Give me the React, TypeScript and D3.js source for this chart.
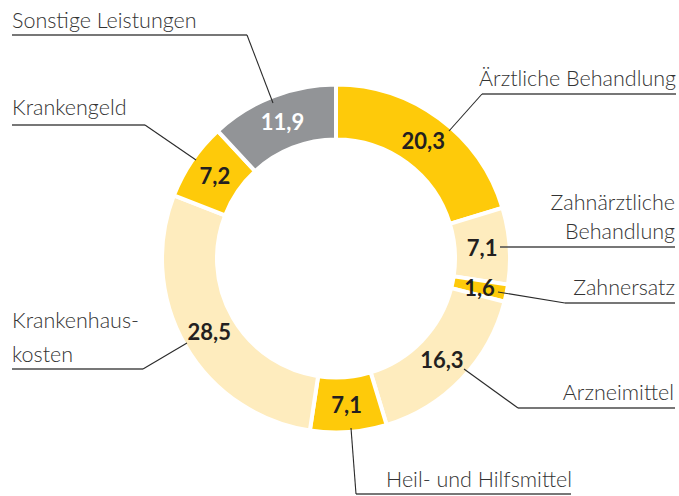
import React from "react";
import * as d3 from "d3";

const categories = [
  "Ärztliche Behandlung",
  "Zahnärztliche Behandlung",
  "Zahnersatz",
  "Arzneimittel",
  "Heil- und Hilfsmittel",
  "Krankenhauskosten",
  "Krankengeld",
  "Sonstige Leistungen",
];
const values = [20.3, 7.1, 1.6, 16.3, 7.1, 28.5, 7.2, 11.9];
const valueLabels = ["20,3", "7,1", "1,6", "16,3", "7,1", "28,5", "7,2", "11,9"];
const colorKeys = ["dark", "light", "dark", "light", "dark", "light", "dark", "gray"];

const COLORS: Record<string, string> = {
  dark: "#FECA0A",
  light: "#FEECBE",
  gray: "#929497",
};

// annotation layout (text lines, underline and leader)
const annotations = [
  { lines: ["Ärztliche Behandlung"], anchor: "end", x: 676, y: [86], ul: [482, 676, 94], from: 482, leader: [449, 131] },
  { lines: ["Zahnärztliche", "Behandlung"], anchor: "end", x: 675, y: [210, 239], ul: [500, 675, 247], from: 500, leader: null },
  { lines: ["Zahnersatz"], anchor: "end", x: 675, y: [295], ul: [565, 675, 303], from: 565, leader: [498, 292] },
  { lines: ["Arzneimittel"], anchor: "end", x: 674, y: [400], ul: [518, 675, 408], from: 518, leader: [464, 369] },
  { lines: ["Heil- und Hilfsmittel"], anchor: "start", x: 386, y: [487], ul: [356, 571, 494], from: 356, leader: [351, 428] },
  { lines: ["Krankenhaus-", "kosten"], anchor: "start", x: 12, y: [328, 362], ul: [12, 143, 369], from: 143, leader: [187, 343] },
  { lines: ["Krankengeld"], anchor: "start", x: 12, y: [115], ul: [12, 145, 125], from: 145, leader: [196, 160] },
  { lines: ["Sonstige Leistungen"], anchor: "start", x: 12, y: [28], ul: [12, 247, 35], from: 247, leader: [273, 103] },
];

const W = 679;
const H = 496;
const CX = 336;
const CY = 258.5;
const R_OUT = 174;
const R_IN = 119;

export default function App() {
  const pie = d3
    .pie<number>()
    .sort(null)
    .value((d) => d)
    .startAngle(0)
    .endAngle(2 * Math.PI);
  const arcs = pie(values);
  const arc = d3.arc<d3.PieArcDatum<number>>().innerRadius(R_IN).outerRadius(R_OUT);
  const font = "Lato, 'Open Sans', sans-serif";

  return (
    <svg
      width={W}
      height={H}
      style={{ position: "absolute", left: 0, top: 0, background: "#fff" }}
    >
      <g transform={`translate(${CX},${CY})`}>
        {arcs.map((a, i) => (
          <path
            key={categories[i]}
            d={arc(a) || ""}
            fill={COLORS[colorKeys[i]]}
            stroke="#fff"
            strokeWidth={4}
          />
        ))}
      </g>
      {annotations.map((an, i) => {
        const [x1, x2, uy] = an.ul;
        return (
          <g key={"an" + i}>
            <line x1={x1} x2={x2} y1={uy} y2={uy} stroke="#4a4a4a" strokeWidth={1.4} />
            {an.leader && (
              <line
                x1={an.from}
                y1={uy}
                x2={an.leader[0]}
                y2={an.leader[1]}
                stroke="#2a2a2a"
                strokeWidth={1.1}
              />
            )}
            {an.lines.map((t, j) => (
              <text
                key={j}
                x={an.x}
                y={an.y[j]}
                textAnchor={an.anchor as any}
                fontFamily={font}
                fontWeight={300}
                fontSize={21.5}
                fill="#333"
              >
                {t}
              </text>
            ))}
          </g>
        );
      })}
      <g transform={`translate(${CX},${CY})`}>
        {arcs.map((a, i) => {
          const [x, y] = arc.centroid(a);
          return (
            <text
              key={"v" + i}
              x={x}
              y={y}
              dy="0.36em"
              textAnchor="middle"
              fontFamily={font}
              fontWeight={700}
              fontSize={22}
              fill={colorKeys[i] === "gray" ? "#fff" : "#231f20"}
            >
              {valueLabels[i]}
            </text>
          );
        })}
      </g>
    </svg>
  );
}
